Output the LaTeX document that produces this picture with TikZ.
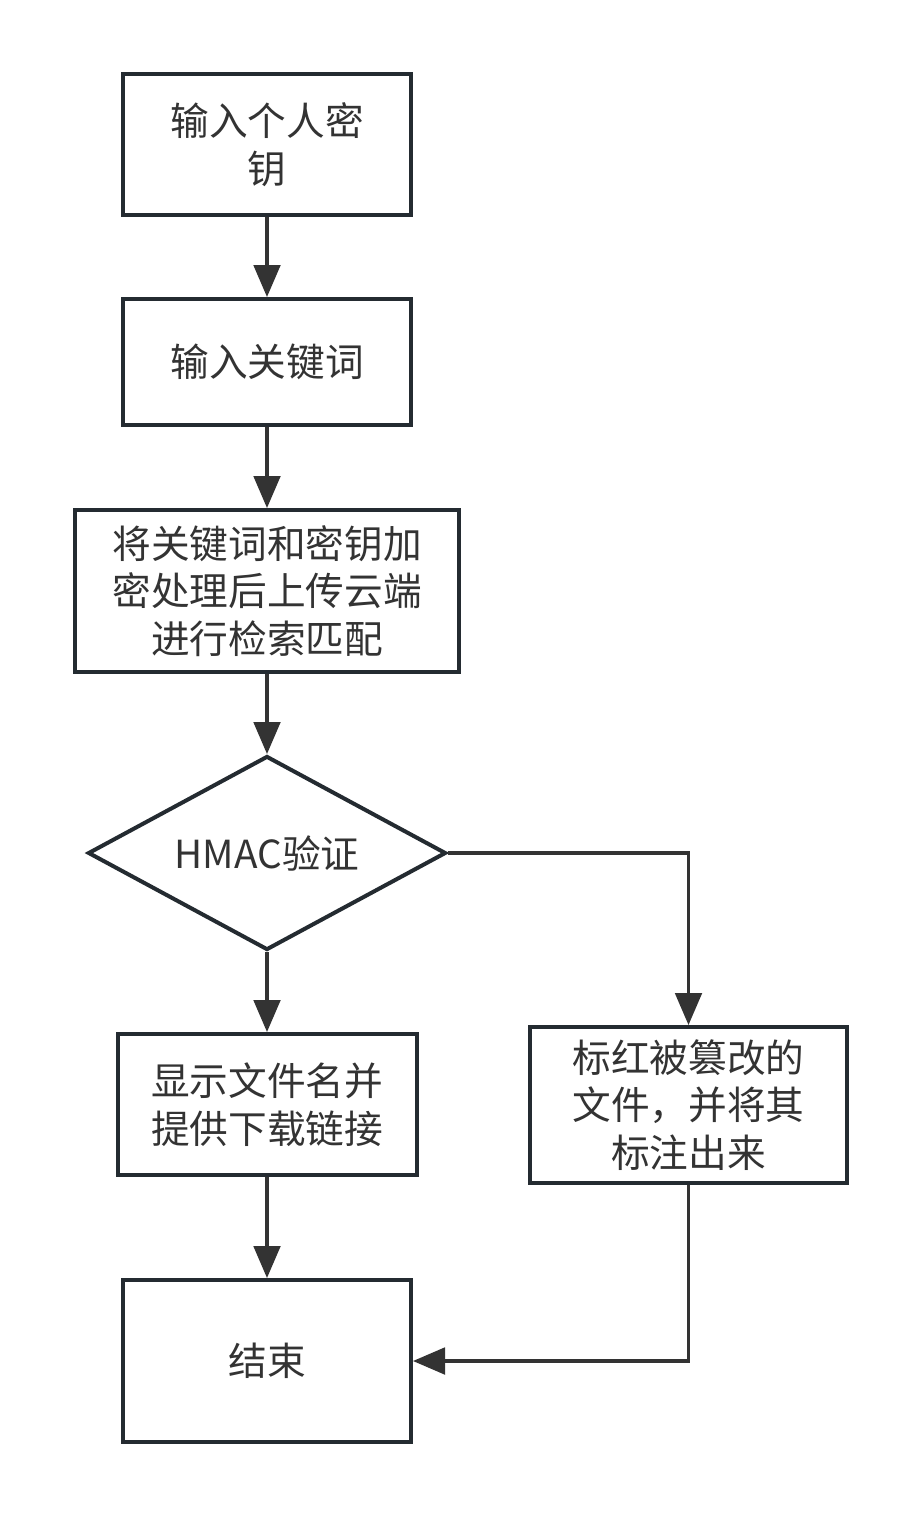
\documentclass[tikz,border=0pt]{standalone}
\usepackage{fontspec}
\usepackage{xcolor}
\usepackage{tikz}
\usetikzlibrary{arrows.meta,shapes.geometric}
\newfontfamily\cjk{Noto Sans CJK SC}
\definecolor{ink}{HTML}{333333}
\definecolor{frame}{HTML}{242B31}
\tikzset{
  >={Triangle[length=24pt,width=20pt]},
  stepbox/.style={draw=frame,line width=3pt,fill=white,inner sep=0pt,align=center,
    text=ink,font=\cjk\fontsize{29}{35.6}\selectfont},
  decision/.style={stepbox,diamond,aspect=1.85},
  flow/.style={->,line width=2.3pt,color=ink},
}

\begin{document}
\begin{tikzpicture}[x=.75pt,y=.75pt]
  \useasboundingbox (0,0) rectangle (921,-1518);

  \node[stepbox,minimum width=216pt,minimum height=105.75pt] (key) at (267,-144.5)
    {输入个人密\\钥};
  \node[stepbox,minimum width=216pt,minimum height=94.5pt] (word) at (267,-362)
    {输入关键词};
  \node[stepbox,minimum width=288pt,minimum height=121.5pt] (enc) at (267,-591)
    {将关键词和密钥加\\密处理后上传云端\\进行检索匹配};
  \node[decision,minimum width=268.5pt,minimum height=145.5pt] (hmac) at (267,-853)
    {HMAC验证};
  \node[stepbox,minimum width=224.25pt,minimum height=105.75pt] (show) at (267,-1104.5)
    {显示文件名并\\提供下载链接};
  \node[stepbox,minimum width=237.75pt,minimum height=117pt] (mark) at (688.5,-1105)
    {标红被篡改的\\文件，并将其\\标注出来};
  \node[stepbox,minimum width=216pt,minimum height=121.5pt] (done) at (267,-1361)
    {结束};

  \draw[flow] (key) -- (word);
  \draw[flow] (word) -- (enc);
  \draw[flow] (enc) -- (hmac);
  \draw[flow] (hmac) -- (show);
  \draw[flow] (hmac.east) -| (mark.north);
  \draw[flow] (show) -- (done);
  \draw[flow] (mark.south) |- (done.east);
\end{tikzpicture}
\end{document}
